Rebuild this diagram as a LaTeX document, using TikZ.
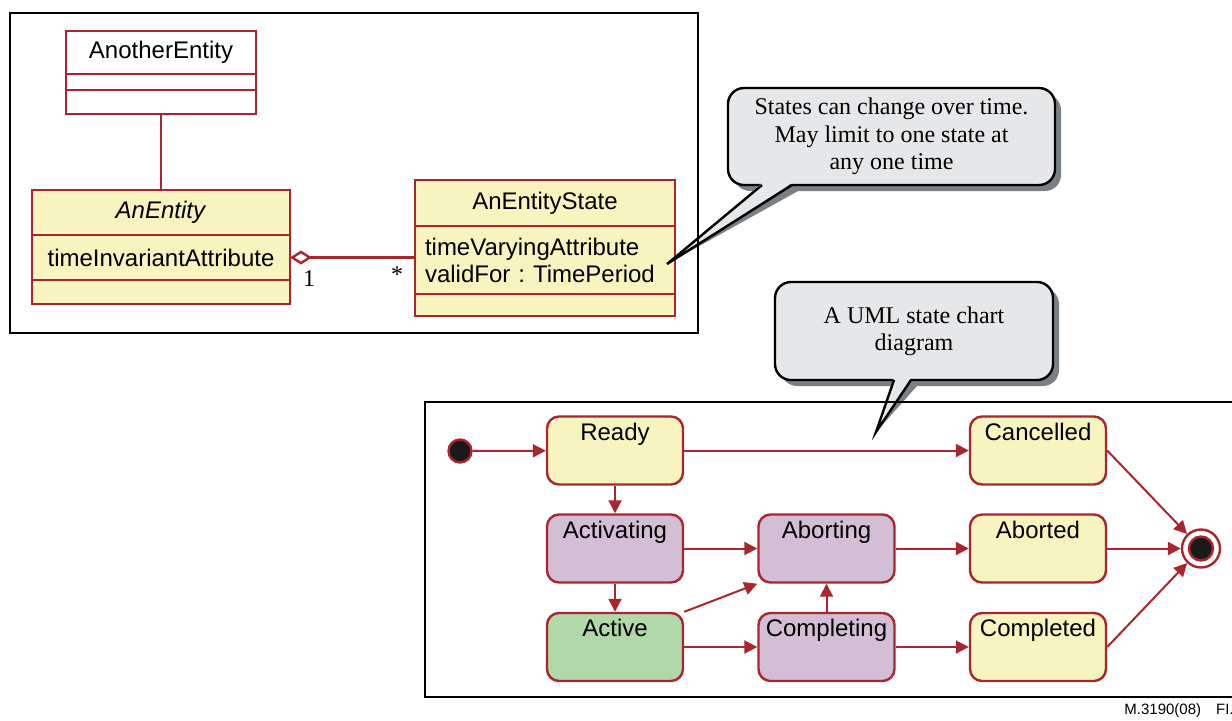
\documentclass[tikz,border=0pt]{standalone}
\usepackage{fontspec}
\setmainfont{Liberation Serif}
\setsansfont{Liberation Sans}
\usetikzlibrary{positioning,arrows.meta,shadows}
\usepackage{xcolor}
\frenchspacing

\definecolor{umlred}{RGB}{168,38,46}
\definecolor{classyellow}{RGB}{248,244,192}
\definecolor{statepurple}{RGB}{212,190,214}
\definecolor{stategreen}{RGB}{176,216,168}
\definecolor{notegrey}{RGB}{230,231,233}
\definecolor{shadowgrey}{RGB}{122,128,132}

\tikzset{
  compart/.style={draw=umlred, line width=1.2pt, fill=classyellow, inner sep=0pt, outer sep=0pt,
    font=\sffamily\fontsize{12}{13.5}\selectfont},
  state/.style={draw=umlred, line width=1.2pt, rounded corners=6pt, minimum width=68pt, minimum height=34pt,
    label={[anchor=north, inner sep=3.5pt, font=\sffamily\fontsize{12}{14}\selectfont]north:#1}},
  trans/.style={draw=umlred, line width=1pt, -{Triangle[length=6.5pt,width=6.5pt]}},
  umlline/.style={draw=umlred, line width=1.2pt},
  mult/.style={font=\fontsize{12}{14}\selectfont, inner sep=0pt},
  note/.style={draw=black, line width=1.2pt, fill=notegrey, rounded corners=8pt, align=center,
    font=\fontsize{12}{13.75}\selectfont,
    drop shadow={shadow xshift=3pt, shadow yshift=-3pt, fill=shadowgrey, opacity=1}},
  frame/.style={draw=black, line width=1.4pt}
}

\begin{document}
\begin{tikzpicture}[x=0.5pt, y=-0.5pt]
\useasboundingbox (0,0) rectangle (1232,720);

% Class diagram: AnotherEntity
\node[compart, fill=white, minimum width=95pt, minimum height=21.5pt, anchor=north] (another) at (161,31) {AnotherEntity};
\node[compart, fill=white, minimum width=95pt, minimum height=8pt, below=0pt of another] (anotherAttr) {};
\node[compart, fill=white, minimum width=95pt, minimum height=12pt, below=0pt of anotherAttr] (anotherOps) {};

% AnEntity
\node[compart, minimum width=129pt, minimum height=22.5pt, anchor=north] (anEntity) at (161,190) {\textit{AnEntity}};
\node[compart, minimum width=129pt, minimum height=22.5pt, below=0pt of anEntity] (anEntityAttr) {timeInvariantAttribute};
\node[compart, minimum width=129pt, minimum height=12pt, below=0pt of anEntityAttr] (anEntityOps) {};

% AnEntityState
\node[compart, minimum width=130pt, minimum height=23pt, anchor=north] (entState) at (545,180) {AnEntityState};
\node[compart, minimum height=34pt, text width=120pt, inner xsep=5pt, align=left, below=0pt of entState] (entStateAttr)
  {timeVaryingAttribute\\validFor : TimePeriod};
\node[compart, minimum width=130pt, minimum height=11pt, below=0pt of entStateAttr] (entStateOps) {};

% associations
\draw[umlline] (anotherOps.south) -- (anEntity.north);
\draw[umlline, {Diamond[open, length=11pt, width=7pt]}-] (anEntityAttr.east) -- (anEntityAttr.east -| entStateAttr.west);
\node[mult] (multOne) at (309,279) {1};
\node[mult] (multMany) at (397,275) {*};

% State chart
\node[circle, draw=umlred, fill=black!90, line width=1.2pt, minimum size=11.5pt, inner sep=0pt] (start) at (460,451) {};
\node[state=Ready, fill=classyellow] (ready) at (615,450.5) {};
\node[state=Cancelled, fill=classyellow] (cancelled) at (1038,450.5) {};
\node[state=Activating, fill=statepurple] (activating) at (615,548.5) {};
\node[state=Aborting, fill=statepurple] (aborting) at (826.5,548.5) {};
\node[state=Aborted, fill=classyellow] (aborted) at (1038,548.5) {};
\node[state=Active, fill=stategreen] (active) at (615,647) {};
\node[state=Completing, fill=statepurple] (completing) at (826.5,647) {};
\node[state=Completed, fill=classyellow] (completed) at (1038,647) {};
\node[circle, draw=umlred, line width=1.2pt, minimum size=19pt, inner sep=0pt] (final) at (1201,548.5) {};
\node[circle, draw=umlred, fill=black!90, line width=1.2pt, minimum size=12pt, inner sep=0pt] (finalDot) at (final) {};

% transitions
\draw[trans] (start) -- (ready);
\draw[trans] (ready) -- (cancelled);
\draw[trans] (ready) -- (activating);
\draw[trans] (activating) -- (aborting);
\draw[trans] (activating) -- (active);
\draw[trans] (active.north east) -- (aborting.south west);
\draw[trans] (active) -- (completing);
\draw[trans] (completing) -- (aborting);
\draw[trans] (aborting) -- (aborted);
\draw[trans] (completing) -- (completed);
\draw[trans] (cancelled.east) -- (final);
\draw[trans] (aborted.east) -- (final);
\draw[trans] (completed.east) -- (final);

% Callouts
\coordinate (tipStates) at (667,264);
\fill[shadowgrey, shift={(6,6)}] (762,185) -- (tipStates) -- (792,185) -- cycle;
\node[note, minimum width=163.5pt, minimum height=48.5pt] (noteStates) at (891.5,136.5)
  {States can change over time.\\May limit to one state at\\any one time};
\fill[notegrey] (762,183) -- (tipStates) -- (792,183) -- cycle;
\draw[line width=1.2pt] (762,185) -- (tipStates) -- (792,185);

\coordinate (tipChart) at (876,432);
\fill[shadowgrey, shift={(6,6)}] (894,380) -- (tipChart) -- (911,380) -- cycle;
\node[note, minimum width=139pt, minimum height=49pt] (noteChart) at (914,331)
  {A UML state chart\\diagram};
\fill[notegrey] (894,378) -- (tipChart) -- (911,378) -- cycle;
\draw[line width=1.2pt] (894,380) -- (tipChart) -- (911,380);

% Frames
\draw[frame] (10,13) rectangle (698,333);
\draw[frame] (1240,402) -- (425,402) -- (425,697) -- (1240,697);

\node[font=\sffamily\fontsize{7.5}{9}\selectfont, anchor=east, inner sep=0pt] (figRef) at (1234,711) {M.3190(08)\quad FI.};
\end{tikzpicture}
\end{document}
